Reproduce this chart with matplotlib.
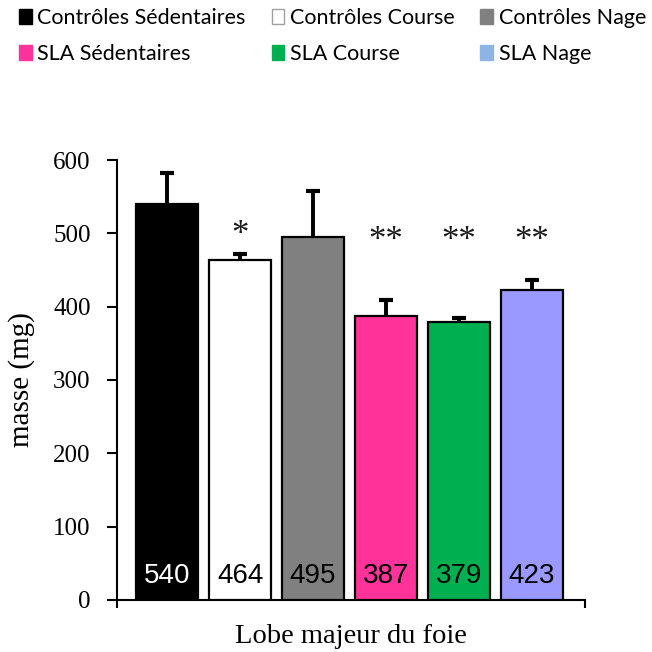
import matplotlib
matplotlib.use('Agg')
import matplotlib.pyplot as plt
from matplotlib.patches import Patch
import numpy as np

# data
groups = ['Contrôles Sédentaires', 'Contrôles Course', 'Contrôles Nage',
          'SLA Sédentaires', 'SLA Course', 'SLA Nage']
means = [540, 464, 495, 387, 379, 423]
errors = [42, 8, 63, 22, 5, 14]
stars = ['', '*', '', '**', '**', '**']
bar_colors = ['#000000', '#ffffff', '#808080', '#ff3399', '#00b050', '#9999ff']
legend_colors = ['#000000', '#ffffff', '#808080', '#ff3399', '#00b050', '#8eb4e3']
label_colors = ['white', 'black', 'black', 'black', 'black', 'black']

fig = plt.figure(figsize=(6.52, 6.52), dpi=100)
ax = fig.add_axes([0.1795, 0.0798, 0.7175, 0.6748])

x = np.arange(len(means))
tops = np.array(means) + np.array(errors)
ax.bar(x, means, width=0.85, color=bar_colors, edgecolor='black', linewidth=1.6, zorder=3)
# upper error bars only
ax.vlines(x, means, tops, color='black', linewidth=2.8, zorder=2)
ax.plot(x, tops, linestyle='none', marker='_', markersize=9.5, markeredgewidth=3,
        color='black', zorder=2)

for i, v in enumerate(means):
    ax.text(i, 23, str(v), ha='center', va='baseline', fontsize=20,
            family='Liberation Sans', color=label_colors[i], zorder=4)
    if stars[i]:
        ypos = 486 if len(stars[i]) == 1 else 477
        ax.text(i, ypos, stars[i], ha='center', va='baseline', fontsize=25,
                family='Liberation Serif', color='#1a1a1a')

ax.set_xlim(-0.69, 5.73)
ax.set_ylim(0, 600)
ax.set_yticks(np.arange(0, 601, 100))
ax.set_xticks([-0.69, 5.73])
ax.set_xticklabels(['', ''])
ax.tick_params(axis='both', direction='out', length=7, width=1.5, labelsize=18)
ax.tick_params(axis='y', pad=12)
ax.tick_params(axis='x', length=6)
for lab in ax.get_yticklabels():
    lab.set_family('Liberation Serif')
ax.spines['top'].set_visible(False)
ax.spines['right'].set_visible(False)
ax.spines['left'].set_linewidth(1.5)
ax.spines['bottom'].set_linewidth(1.5)
ax.set_ylabel('masse (mg)', family='Liberation Serif', fontsize=21, labelpad=13)
ax.set_xlabel('Lobe majeur du foie', family='Liberation Serif', fontsize=20.5, labelpad=8)

# legend: 2 rows x 3 columns, row-wise order
order = [0, 3, 1, 4, 2, 5]
handles = []
for k in order:
    ec = '#a0a0a0' if legend_colors[k] == '#ffffff' else legend_colors[k]
    handles.append(Patch(facecolor=legend_colors[k], edgecolor=ec, label=groups[k]))
fig.legend(handles=handles, ncol=3, loc='upper left', bbox_to_anchor=(19 / 652, 1 - 8 / 652),
           frameon=False, prop={'family': 'Lato', 'size': 15.5},
           handlelength=0.6, handleheight=0.7, handletextpad=0.25,
           columnspacing=1.2, labelspacing=0.75, borderpad=0, borderaxespad=0)

fig.savefig('out.png', dpi=100)
